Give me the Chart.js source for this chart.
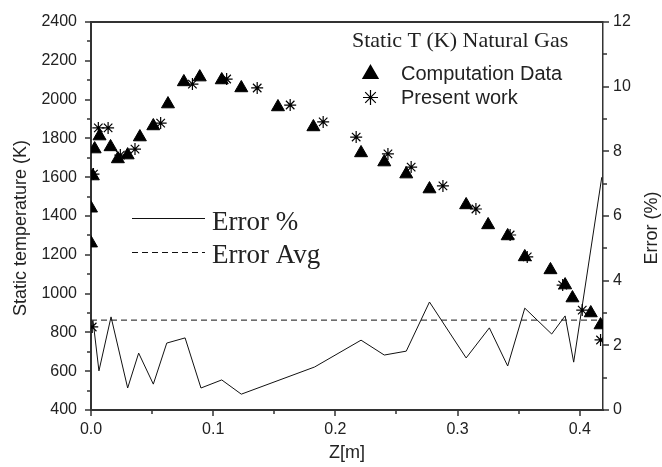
<!DOCTYPE html>
<html>
<head>
<meta charset="utf-8">
<script src="https://cdn.jsdelivr.net/npm/chart.js@4.4.0/dist/chart.umd.min.js"></script>
<style>
  html, body { margin: 0; padding: 0; background: #fff; }
  #wrap { width: 662px; height: 467px; position: relative; }
</style>
</head>
<body>
<div id="wrap"><canvas id="chart"></canvas></div>
<script>
// Computation Data (triangles)
const zComp = [0.0, 0.0, 0.0015, 0.003, 0.007, 0.016, 0.022, 0.030, 0.040, 0.051, 0.063, 0.076, 0.089, 0.107, 0.123,
               0.153, 0.182, 0.221, 0.240, 0.258, 0.277, 0.307, 0.325, 0.341, 0.355, 0.376, 0.388, 0.394, 0.409, 0.417];
const tComp = [1260, 1440, 1606, 1745, 1812, 1756, 1694, 1714, 1807, 1864, 1977, 2091, 2116, 2101, 2060,
               1962, 1859, 1725, 1678, 1616, 1539, 1457, 1354, 1297, 1189, 1122, 1044, 977, 900, 838];

// Present work (stars)
const zPres = [0.001, 0.002, 0.006, 0.014, 0.024, 0.036, 0.057, 0.083, 0.111, 0.136, 0.163,
               0.190, 0.217, 0.243, 0.262, 0.288, 0.315, 0.343, 0.357, 0.386, 0.402, 0.417];
const tPres = [828, 1616, 1854, 1854, 1714, 1745, 1879, 2080, 2106, 2060, 1972,
               1885, 1807, 1720, 1652, 1555, 1436, 1302, 1189, 1044, 915, 761];

// Error % (right axis)
const zErr = [0.0016, 0.0065, 0.0164, 0.030, 0.039, 0.051, 0.062, 0.077, 0.090, 0.107, 0.123, 0.183,
              0.221, 0.240, 0.258, 0.277, 0.307, 0.326, 0.341, 0.355, 0.377, 0.388, 0.395, 0.418];
const errPct = [2.78, 1.21, 2.88, 0.68, 1.76, 0.80, 2.07, 2.23, 0.68, 0.93, 0.49, 1.33,
                2.16, 1.70, 1.82, 3.34, 1.61, 2.54, 1.36, 3.15, 2.35, 2.91, 1.48, 7.2];
const errAvg = 2.78;

// axes
const xMin = 0, xMax = 0.419;
const xTicks = [0, 0.05, 0.1, 0.15, 0.2, 0.25, 0.3, 0.35, 0.4];
const yTicks = [400, 500, 600, 700, 800, 900, 1000, 1100, 1200, 1300, 1400, 1500, 1600,
                1700, 1800, 1900, 2000, 2100, 2200, 2300, 2400];
const y2Ticks = [0, 1, 2, 3, 4, 5, 6, 7, 8, 9, 10, 11, 12];

const ink = '#222';
const axisCol = '#333';
const sans = '"Liberation Sans", Arial, sans-serif';
const serif = '"Liberation Serif", "Times New Roman", serif';

function pts(xs, ys) {
    return xs.map((x, i) => ({ x: x, y: ys[i] }));
}
function isMult(v, step) {
    const q = v / step;
    return Math.abs(q - Math.round(q)) < 1e-6;
}

function marker(ctx, style, r, x, y) {
    if (Chart.helpers && Chart.helpers.drawPoint) {
        Chart.helpers.drawPoint(ctx, { pointStyle: style, radius: r, rotation: 0, borderWidth: 1.2 }, x, y);
    }
}

const framePlugin = {
    id: 'frame',
    afterDraw(chart) {
        const { ctx, chartArea: a, scales } = chart;
        ctx.save();
        ctx.strokeStyle = axisCol;
        ctx.lineWidth = 2;
        ctx.beginPath();
        ctx.moveTo(a.left - 1, a.top);
        ctx.lineTo(a.right, a.top);
        ctx.stroke();

        // tick marks (major longer than minor)
        ctx.lineWidth = 1.5;
        ctx.beginPath();
        scales.x.ticks.forEach(t => {
            const px = Math.round(scales.x.getPixelForValue(t.value));
            const len = isMult(t.value, 0.1) ? 6 : 4;
            ctx.moveTo(px, a.bottom);
            ctx.lineTo(px, a.bottom + len);
        });
        scales.y.ticks.forEach(t => {
            const py = Math.round(scales.y.getPixelForValue(t.value));
            const len = isMult(t.value, 200) ? 6 : 4;
            ctx.moveTo(a.left, py);
            ctx.lineTo(a.left - len, py);
        });
        scales.y2.ticks.forEach(t => {
            const py = Math.round(scales.y2.getPixelForValue(t.value));
            const len = isMult(t.value, 2) ? 6 : 4;
            ctx.moveTo(a.right, py);
            ctx.lineTo(a.right + len, py);
        });
        ctx.stroke();

        // axis titles
        ctx.fillStyle = ink;
        ctx.textAlign = 'center';
        ctx.textBaseline = 'middle';
        ctx.font = '18px ' + sans;
        ctx.save();
        ctx.translate(21, 228);
        ctx.rotate(-Math.PI / 2);
        ctx.fillText('Static temperature (K)', 0, 0);
        ctx.restore();
        ctx.save();
        ctx.translate(652, 228);
        ctx.rotate(-Math.PI / 2);
        ctx.fillText('Error (%)', 0, 0);
        ctx.restore();
        ctx.fillText('Z[m]', (a.left + a.right) / 2, 453);

        // legend, top right
        ctx.textAlign = 'left';
        ctx.textBaseline = 'alphabetic';
        ctx.font = '22px ' + serif;
        ctx.fillText('Static T (K) Natural Gas', 352, 47);
        ctx.font = '20px ' + sans;
        ctx.fillText('Computation Data', 401, 80);
        ctx.fillText('Present work', 401, 104);
        ctx.fillStyle = '#000';
        ctx.strokeStyle = '#000';
        marker(ctx, 'triangle', 8.5, 370.5, 74);
        ctx.lineWidth = 1.2;
        marker(ctx, 'star', 7.5, 370.5, 97.5);

        // legend, error lines
        ctx.strokeStyle = '#111';
        ctx.lineWidth = 1;
        ctx.beginPath();
        ctx.moveTo(132, 218.5);
        ctx.lineTo(205, 218.5);
        ctx.stroke();
        ctx.setLineDash([6, 4]);
        ctx.beginPath();
        ctx.moveTo(132, 252.5);
        ctx.lineTo(205, 252.5);
        ctx.stroke();
        ctx.setLineDash([]);
        ctx.fillStyle = ink;
        ctx.font = '27px ' + serif;
        ctx.fillText('Error %', 212, 230);
        ctx.fillText('Error Avg', 212, 263);
        ctx.restore();
    }
};

const ctx = document.getElementById('chart').getContext('2d');
new Chart(ctx, {
    type: 'scatter',
    data: {
        datasets: [
            {
                label: 'Computation Data',
                data: pts(zComp, tComp),
                yAxisID: 'y',
                pointStyle: 'triangle',
                pointRadius: 7.5,
                backgroundColor: '#000',
                borderColor: '#000',
                borderWidth: 1,
                clip: 0
            },
            {
                label: 'Present work',
                data: pts(zPres, tPres),
                yAxisID: 'y',
                pointStyle: 'star',
                pointRadius: 6,
                backgroundColor: '#000',
                borderColor: '#000',
                borderWidth: 1.2,
                clip: 0
            },
            {
                label: 'Error %',
                type: 'line',
                data: pts(zErr, errPct),
                yAxisID: 'y2',
                borderColor: '#111',
                borderWidth: 1,
                pointRadius: 0,
                tension: 0,
                fill: false,
                clip: 0
            },
            {
                label: 'Error Avg',
                type: 'line',
                data: [{ x: xMin, y: errAvg }, { x: xMax, y: errAvg }],
                yAxisID: 'y2',
                borderColor: '#111',
                borderWidth: 1,
                borderDash: [6, 4],
                pointRadius: 0,
                fill: false,
                clip: 0
            }
        ]
    },
    options: {
        responsive: true,
        maintainAspectRatio: false,
        animation: false,
        layout: { padding: { top: 22, left: 0, right: 0, bottom: 0 } },
        plugins: {
            legend: { display: false },
            tooltip: { enabled: false }
        },
        scales: {
            x: {
                type: 'linear',
                position: 'bottom',
                min: xMin,
                max: xMax,
                afterBuildTicks: s => { s.ticks = xTicks.map(v => ({ value: v })); },
                afterFit: s => { s.height = 57; },
                grid: { drawOnChartArea: false, tickLength: 5, tickColor: 'rgba(0,0,0,0)' },
                border: { color: axisCol, width: 2 },
                ticks: {
                    autoSkip: false,
                    maxRotation: 0,
                    padding: 5,
                    color: ink,
                    font: { family: sans, size: 16 },
                    callback: v => isMult(v, 0.1) ? v.toFixed(1) : ''
                }
            },
            y: {
                type: 'linear',
                position: 'left',
                min: 400,
                max: 2400,
                afterBuildTicks: s => { s.ticks = yTicks.map(v => ({ value: v })); },
                afterFit: s => { s.width = 91; },
                grid: { drawOnChartArea: false, tickLength: 7, tickColor: 'rgba(0,0,0,0)' },
                border: { color: axisCol, width: 2 },
                ticks: {
                    autoSkip: false,
                    padding: 7,
                    color: ink,
                    font: { family: sans, size: 16 },
                    callback: v => isMult(v, 200) ? String(v) : ''
                }
            },
            y2: {
                type: 'linear',
                position: 'right',
                min: 0,
                max: 12,
                afterBuildTicks: s => { s.ticks = y2Ticks.map(v => ({ value: v })); },
                afterFit: s => { s.width = 59; },
                grid: { drawOnChartArea: false, tickLength: 5, tickColor: 'rgba(0,0,0,0)' },
                border: { color: axisCol, width: 1.5 },
                ticks: {
                    autoSkip: false,
                    padding: 5,
                    color: ink,
                    font: { family: sans, size: 16 },
                    callback: v => isMult(v, 2) ? String(v) : ''
                }
            }
        }
    },
    plugins: [framePlugin]
});
</script>
</body>
</html>
